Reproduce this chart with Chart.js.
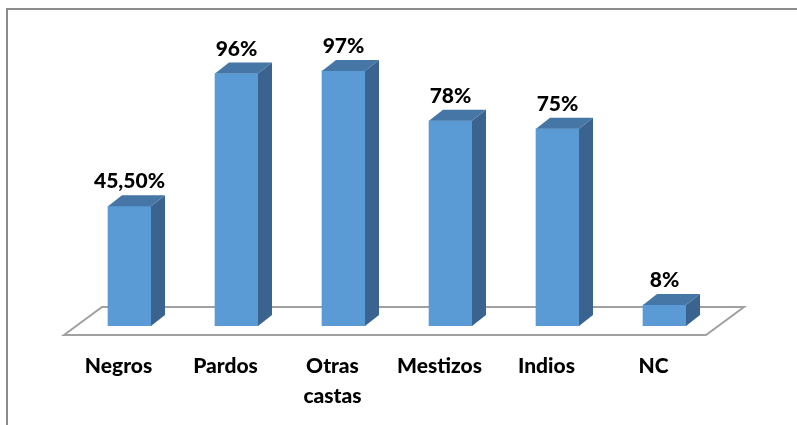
<!DOCTYPE html>
<html>
<head>
<meta charset="utf-8">
<script src="https://cdn.jsdelivr.net/npm/chart.js@4.4.1/dist/chart.umd.min.js"></script>
<style>
  html, body { margin: 0; padding: 0; background: #ffffff; }
  #wrap { width: 797px; height: 425px; }
</style>
</head>
<body>
<div id="wrap"><canvas id="chart" width="797" height="425"></canvas></div>
<script>
const categories = ['Negros', 'Pardos', ['Otras', 'castas'], 'Mestizos', 'Indios', 'NC'];
const values = [45.5, 96, 97, 78, 75, 8];
const valueLabels = ['45,50%', '96%', '97%', '78%', '75%', '8%'];

const FRONT = '#5b9bd5';
const TOP = '#4676a6';
const SIDE = '#3a6390';
const DEPTH_X = 14;
const DEPTH_Y = -11;
const LABEL_FONT = '900 21px Lato';

const fakeThreeD = {
  id: 'fakeThreeD',
  beforeDraw: (chart) => {
    const { ctx, width, height } = chart;
    ctx.save();
    ctx.fillStyle = '#ffffff';
    ctx.fillRect(0, 0, width, height);
    // frame of the chart box (top + left edges visible)
    ctx.strokeStyle = '#8c8c8c';
    ctx.lineWidth = 2;
    ctx.beginPath();
    ctx.moveTo(7, height);
    ctx.lineTo(7, 9);
    ctx.lineTo(width, 9);
    ctx.stroke();
    ctx.restore();
  },
  beforeDatasetsDraw: (chart) => {
    // floor plane
    const { ctx, chartArea } = chart;
    const b = chartArea.bottom;
    ctx.save();
    ctx.strokeStyle = '#a0a0a0';
    ctx.lineWidth = 2;
    ctx.beginPath();
    ctx.moveTo(chartArea.left - 12, b + 9);
    ctx.lineTo(chartArea.left + 26, b - 19);
    ctx.lineTo(chartArea.right + 26, b - 19);
    ctx.lineTo(chartArea.right - 12, b + 9);
    ctx.closePath();
    ctx.fillStyle = '#ffffff';
    ctx.fill();
    ctx.stroke();
    ctx.restore();
  },
  afterDatasetsDraw: (chart) => {
    const { ctx } = chart;
    const meta = chart.getDatasetMeta(0);
    ctx.save();
    meta.data.forEach((bar, i) => {
      const left = bar.x - bar.width / 2;
      const right = bar.x + bar.width / 2;
      const top = bar.y;
      const bottom = bar.base;

      // side face
      ctx.fillStyle = SIDE;
      ctx.beginPath();
      ctx.moveTo(right, top);
      ctx.lineTo(right + DEPTH_X, top + DEPTH_Y);
      ctx.lineTo(right + DEPTH_X, bottom + DEPTH_Y);
      ctx.lineTo(right, bottom);
      ctx.closePath();
      ctx.fill();

      // top face
      ctx.fillStyle = TOP;
      ctx.beginPath();
      ctx.moveTo(left, top);
      ctx.lineTo(left + DEPTH_X, top + DEPTH_Y);
      ctx.lineTo(right + DEPTH_X, top + DEPTH_Y);
      ctx.lineTo(right, top);
      ctx.closePath();
      ctx.fill();

      // value label
      ctx.fillStyle = '#000000';
      ctx.font = LABEL_FONT;
      ctx.textAlign = 'center';
      ctx.textBaseline = 'alphabetic';
      ctx.fillText(valueLabels[i], bar.x, top - 18);
    });
    ctx.restore();
  }
};

new Chart(document.getElementById('chart'), {
  type: 'bar',
  data: {
    labels: categories,
    datasets: [{
      data: values,
      backgroundColor: FRONT,
      borderWidth: 0,
      barThickness: 43
    }]
  },
  options: {
    responsive: false,
    animation: false,
    layout: {
      padding: { left: 76, right: 79, top: 63, bottom: 0 }
    },
    plugins: {
      legend: { display: false },
      tooltip: { enabled: false }
    },
    scales: {
      x: {
        offset: true,
        grid: { display: false, drawTicks: false },
        border: { display: false },
        ticks: {
          color: '#000000',
          font: { family: 'Lato', size: 21, weight: 900, lineHeight: '30px' },
          padding: 25,
          labelOffset: -11,
          maxRotation: 0,
          autoSkip: false
        },
        afterFit: (scale) => { scale.height = 99; }
      },
      y: {
        display: false,
        min: 0,
        max: 100
      }
    }
  },
  plugins: [fakeThreeD]
});
</script>
</body>
</html>
